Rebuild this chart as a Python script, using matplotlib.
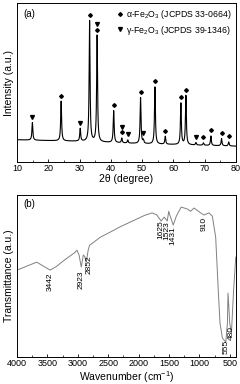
import numpy as np
import matplotlib
matplotlib.use('Agg')
import matplotlib.pyplot as plt
from matplotlib.lines import Line2D

plt.rcParams['font.family'] = ['Liberation Sans', 'DejaVu Sans']
plt.rcParams['mathtext.fontset'] = 'custom'
plt.rcParams['mathtext.rm'] = 'Liberation Sans'
plt.rcParams['mathtext.it'] = 'Liberation Sans'

# XRD: baseline and peaks (2theta, height above baseline)
base_2t = [10, 30, 50, 80]
base_int = [14, 13, 11.5, 10]
peak_2t = [14.9, 24.1, 30.2, 33.2, 35.6, 40.9, 43.5, 45.4, 49.5, 50.4,
           54.1, 57.4, 62.4, 64.0, 67.2, 69.6, 72.0, 75.4, 77.7]
peak_h = [11, 25, 8, 76, 67, 20, 3, 2, 29, 2,
          36, 5, 26, 31, 1.5, 1.5, 6, 4.5, 2.5]
alpha_2t = [24.1, 33.2, 35.6, 40.9, 43.5, 49.5, 54.1, 57.4, 62.4, 64.0,
            69.6, 72.0, 75.4, 77.7]
gamma_2t = [14.9, 30.2, 35.6, 43.5, 45.4, 50.4, 67.2]

# FTIR curve (wavenumber, transmittance)
wn = [4000, 3850, 3675, 3560, 3455, 3350, 3200, 3050, 3015, 2980, 2944,
      2910, 2885, 2861, 2830, 2807, 2630, 2450, 2300, 2100, 1900, 1778,
      1700, 1630, 1580, 1530, 1505, 1490, 1431, 1380, 1300, 1200, 1145,
      1090, 980, 926, 843, 788, 733, 690, 662, 622, 566, 540, 530, 515,
      502, 474, 440, 403]
tr = [53.7, 56, 58.6, 56, 53.7, 56, 60.5, 64.5, 66, 63, 55.6,
      63, 62, 58.6, 66, 69, 74, 77.5, 80.5, 84, 87.5, 89,
      87.7, 84, 86.4, 84, 90, 88, 81.5, 87, 92.6, 91.4, 90,
      92, 89, 87.7, 89, 87, 74, 41, 21, 11.7, 9.3, 21, 39.5, 30,
      21, 14.8, 40, 61.7]
ftir_labels = ['3442', '2923', '2852', '1625', '1523', '1431', '910', '555', '480']
ftir_lab_x = [3455, 2944, 2817, 1629, 1530, 1431, 926, 568, 474]
ftir_lab_y = [52.5, 53.7, 63, 84.6, 84, 80.9, 86.4, 10.5, 19]

fig = plt.figure(figsize=(2.4, 3.84), dpi=100)
ax1 = fig.add_axes([0.071, 0.578, 0.912, 0.414])
ax2 = fig.add_axes([0.071, 0.070, 0.912, 0.422])

# --- XRD panel
x = np.linspace(10, 80, 3000)
base = np.interp(x, base_2t, base_int)
y = base.copy()
w = 0.17
for c, h in zip(peak_2t, peak_h):
    y += h / (1 + ((x - c) / w) ** 2)
ax1.plot(x, y, color='black', lw=0.8)

def top_at(c):
    return np.interp(c, x, y)

for c in alpha_2t:
    ax1.plot(c, top_at(c) + 3.5, marker='D', ms=1.9, color='black', ls='none')
for c in gamma_2t:
    off = 7.0 if c in alpha_2t else 3.5
    ax1.plot(c, top_at(c) + off, marker='v', ms=2.8, color='black', ls='none')

ax1.set_xlim(10, 80)
ax1.set_ylim(0, 100)
ax1.set_xticks(range(10, 81, 10))
ax1.set_xticks(range(15, 80, 10), minor=True)
ax1.set_yticks([])
ax1.tick_params(axis='x', direction='in', labelsize=6.5, length=2.5, width=0.6, pad=1.5)
ax1.tick_params(axis='x', which='minor', direction='in', length=1.5, width=0.5)
ax1.set_xlabel('2θ (degree)', fontsize=7.5, labelpad=0.5)
ax1.set_ylabel('Intensity (a.u.)', fontsize=7.5, labelpad=2)
ax1.text(0.03, 0.965, '(a)', transform=ax1.transAxes, fontsize=7, va='top')
handles = [Line2D([], [], marker='D', ms=1.9, color='black', ls='none'),
           Line2D([], [], marker='v', ms=2.8, color='black', ls='none')]
ax1.legend(handles, [r'α-Fe$_2$O$_3$ (JCPDS 33-0664)', r'γ-Fe$_2$O$_3$ (JCPDS 39-1346)'],
           loc='upper right', frameon=False, fontsize=6.3, handlelength=0.6,
           handletextpad=0.3, borderaxespad=0.15, labelspacing=0.3)

# --- FTIR panel
ax2.plot(wn, tr, color='#808080', lw=0.7)
for t, lx, ly in zip(ftir_labels, ftir_lab_x, ftir_lab_y):
    ax2.text(lx, ly, t, rotation=90, ha='center', va='top', fontsize=6)
ax2.set_xlim(4000, 400)
ax2.set_ylim(0, 100)
ax2.set_xticks(range(4000, 499, -500))
ax2.set_xticks(range(3750, 499, -500), minor=True)
ax2.set_yticks([])
ax2.tick_params(axis='x', direction='in', labelsize=6.5, length=2.5, width=0.6, pad=1.5)
ax2.tick_params(axis='x', which='minor', direction='in', length=1.5, width=0.5)
ax2.set_xlabel(r'Wavenumber (cm$^{-1}$)', fontsize=7.5, labelpad=0.5)
ax2.set_ylabel('Transmittance (a.u.)', fontsize=7.5, labelpad=2)
ax2.text(0.03, 0.975, '(b)', transform=ax2.transAxes, fontsize=7, va='top')

for ax in (ax1, ax2):
    for s in ax.spines.values():
        s.set_linewidth(0.7)

fig.savefig('out.png', dpi=100)
